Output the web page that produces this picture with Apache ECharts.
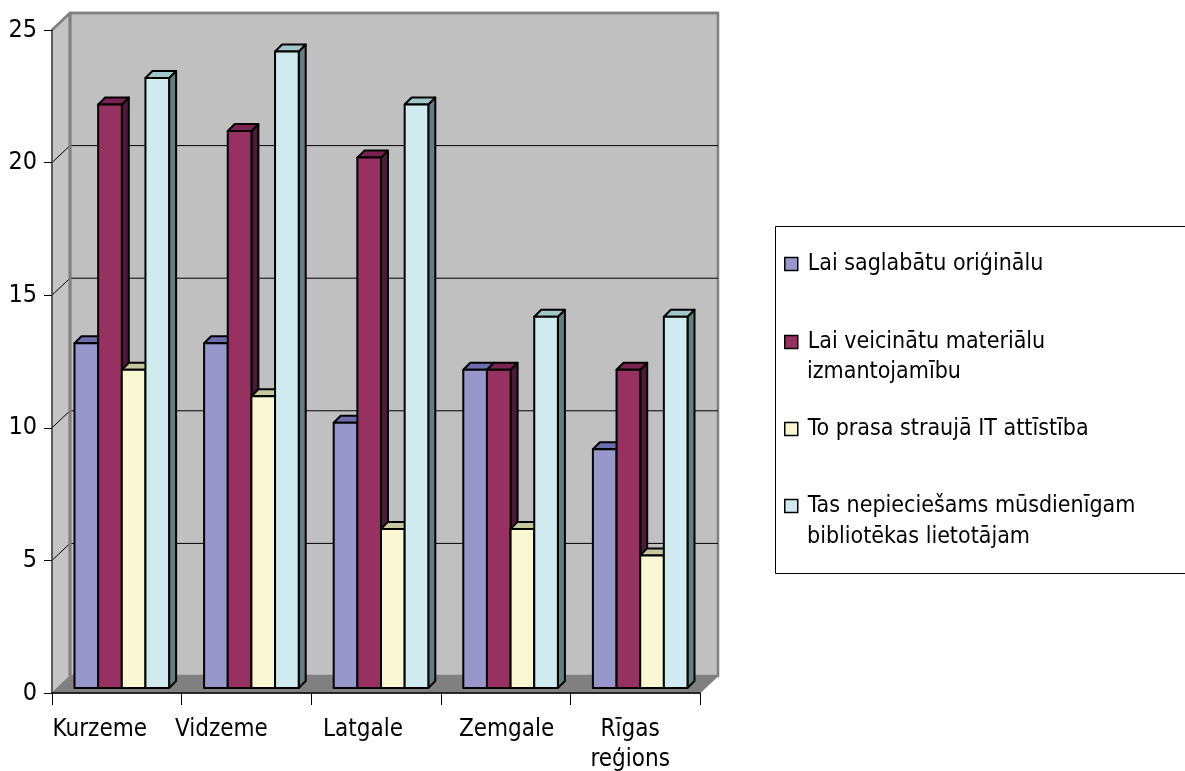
<!DOCTYPE html>
<html>
<head>
<meta charset="utf-8">
<script src="https://cdn.jsdelivr.net/npm/echarts@6/dist/echarts.min.js"></script>
<style>
html,body{margin:0;padding:0;background:#fff;}
#c{width:1185px;height:771px;}
</style>
</head>
<body>
<div id="c"></div>
<script>
const categories = ['Kurzeme', 'Vidzeme', 'Latgale', 'Zemgale', 'Rīgas\nreģions'];
const seriesNames = [
  'Lai saglabātu oriģinālu',
  'Lai veicinātu materiālu izmantojamību',
  'To prasa straujā IT attīstība',
  'Tas nepieciešams mūsdienīgam bibliotēkas lietotājam'
];
const saglabat = [13, 13, 10, 12, 9];
const veicinat = [22, 21, 20, 12, 12];
const itPrasa = [12, 11, 6, 6, 5];
const nepieciesams = [23, 24, 22, 14, 14];
const yMin = 0, yMax = 25, yStep = 5;

const FONT = "'Liberation Sans Narrow', 'DejaVu Sans Condensed', sans-serif";
const faces = [
  {front: '#9797CB', top: '#6E6EAE', side: '#4B4B80'},
  {front: '#963162', top: '#7A2350', side: '#4A1A38'},
  {front: '#FAF8D2', top: '#C8C8A0', side: '#9A9A70'},
  {front: '#D0EBF0', top: '#A0C8C8', side: '#628080'}
];
const DEPTH = 17;      // back wall offset (px)
const F = 5, B = 12;   // bar front / back face offsets
const labelShift = [-17, -25, -13, 1, -5];

function barRenderer(si) {
  return function (params, api) {
    const ci = api.value(0), v = api.value(1);
    const base = api.coord([ci, 0]);
    const top = api.coord([ci, v]);
    const band = api.size([1, 0])[0];
    const groupW = band * 0.73;
    const bw = groupW / 4;
    const x0 = base[0] - groupW / 2 + si * bw;
    const x1 = x0 + bw;
    const yt = top[1], yb = base[1];
    const c = faces[si];
    const st = {stroke: '#000', lineWidth: 2, lineJoin: 'round'};
    return {
      type: 'group',
      children: [
        {type: 'polygon', shape: {points: [[x1 + F, yt - F], [x1 + B, yt - B], [x1 + B, yb - B], [x1 + F, yb - F]]},
          style: Object.assign({fill: c.side}, st)},
        {type: 'polygon', shape: {points: [[x0 + F, yt - F], [x1 + F, yt - F], [x1 + B, yt - B], [x0 + B, yt - B]]},
          style: Object.assign({fill: c.top}, st)},
        {type: 'rect', shape: {x: x0 + F, y: yt - F, width: bw, height: yb - yt},
          style: Object.assign({fill: c.front}, st)}
      ]
    };
  };
}

function wallRenderer(params, api) {
  const band = api.size([1, 0])[0];
  const xl = api.coord([0, 0])[0] - band / 2;
  const xr = api.coord([categories.length - 1, 0])[0] + band / 2;
  const y0 = api.coord([0, yMin])[1];
  const yT = api.coord([0, yMax])[1];
  const d = DEPTH;
  const ch = [];
  ch.push({type: 'polygon', shape: {points: [[xl, y0], [xl, yT], [xl + d + 1, yT - d], [xl + d + 1, y0 - d]]},
    style: {fill: '#C4C4C4', stroke: '#808080', lineWidth: 1}});
  ch.push({type: 'rect', shape: {x: xl + d + 1, y: yT - d, width: xr - xl, height: y0 - yT},
    style: {fill: '#C0C0C0', stroke: '#808080', lineWidth: 2.5}});
  ch.push({type: 'polygon', shape: {points: [[xl, y0], [xr, y0], [xr + d + 1, y0 - d], [xl + d + 1, y0 - d]]},
    style: {fill: '#808080', stroke: '#808080', lineWidth: 1}});
  for (let v = yMin + yStep; v <= yMax; v += yStep) {
    const y = api.coord([0, v])[1];
    ch.push({type: 'polyline', shape: {points: [[xl, y], [xl + d + 1, y - d], [xr + d + 1, y - d]]},
      style: {stroke: v === yMax ? '#808080' : '#000', lineWidth: v === yMax ? 2.5 : 1, fill: null}});
  }
  ch.push({type: 'line', shape: {x1: xl + d + 1, y1: yT - d, x2: xl + d + 1, y2: y0 - d},
    style: {stroke: '#808080', lineWidth: 3}});
  ch.push({type: 'line', shape: {x1: xl, y1: yT, x2: xl + d + 1, y2: yT - d},
    style: {stroke: '#808080', lineWidth: 2}});
  return {type: 'group', children: ch};
}

const seriesData = [saglabat, veicinat, itPrasa, nepieciesams];

const series = [{
  type: 'custom', name: '_walls', silent: true, z: 1,
  renderItem: wallRenderer, data: [[0, 0]], encode: {x: 0, y: 1}
}];
seriesData.forEach((arr, si) => {
  series.push({
    type: 'custom', name: seriesNames[si], z: 3,
    renderItem: barRenderer(si),
    itemStyle: {color: faces[si].front, borderColor: '#000', borderWidth: 1},
    encode: {x: 0, y: 1},
    data: arr.map((v, i) => [i, v])
  });
});

const legendTops = [248, 326, 413, 490];
const legendFirstLines = ['Lai saglabātu oriģinālu', 'Lai veicinātu materiālu', 'To prasa straujā IT attīstība', 'Tas nepieciešams mūsdienīgam'];
const legends = seriesNames.map((n, i) => ({
  left: 784, top: legendTops[i], padding: 0, itemWidth: 13, itemHeight: 13,
  selectedMode: false,
  data: [{name: n, icon: 'rect', itemStyle: {color: faces[i].front, borderColor: '#000', borderWidth: 1.5}}],
  formatter: () => legendFirstLines[i],
  textStyle: {fontFamily: FONT, fontSize: 23, color: '#000', lineHeight: 32, padding: [0, 0, 0, 5]}
}));

const rich = {};
labelShift.forEach((s, i) => {
  rich['k' + i] = {fontFamily: FONT, fontSize: 24, color: '#000', lineHeight: 30,
    padding: [0, s < 0 ? -2 * s : 0, 0, s > 0 ? 2 * s : 0]};
});

const chart = echarts.init(document.getElementById('c'), null, {renderer: 'canvas'});
chart.setOption({
  animation: false,
  backgroundColor: '#fff',
  grid: {left: 52, right: 485, top: 30, bottom: 78, containLabel: false, outerBoundsMode: 'none'},
  legend: legends,
  graphic: [
    {type: 'rect', left: 775, top: 226, z: -1, shape: {width: 430, height: 347},
      style: {fill: '#fff', stroke: '#000', lineWidth: 1}},
    {type: 'text', left: 807, top: 361, style: {text: 'izmantojamību', font: '23px ' + FONT, fill: '#000'}},
    {type: 'text', left: 807, top: 526, style: {text: 'bibliotēkas lietotājam', font: '23px ' + FONT, fill: '#000'}}
  ],
  xAxis: {
    type: 'category', data: categories, boundaryGap: true,
    axisLine: {show: true, lineStyle: {color: '#000', width: 1.5}},
    axisTick: {show: true, length: 12, lineStyle: {color: '#000'}},
    axisLabel: {
      margin: 22, interval: 0, fontFamily: FONT, fontSize: 24, color: '#000', lineHeight: 30,
      formatter: (val, idx) => val.split('\n').map(l => '{k' + idx + '|' + l + '}').join('\n'),
      rich: rich
    },
    z: 5
  },
  yAxis: {
    type: 'value', min: yMin, max: yMax, interval: yStep,
    axisLine: {show: true, lineStyle: {color: '#404040', width: 1.5}},
    axisTick: {show: true, length: 8, lineStyle: {color: '#000'}},
    axisLabel: {fontFamily: FONT, fontSize: 25, color: '#000', margin: 15},
    splitLine: {show: false},
    z: 5
  },
  series: series
});
</script>
</body>
</html>
